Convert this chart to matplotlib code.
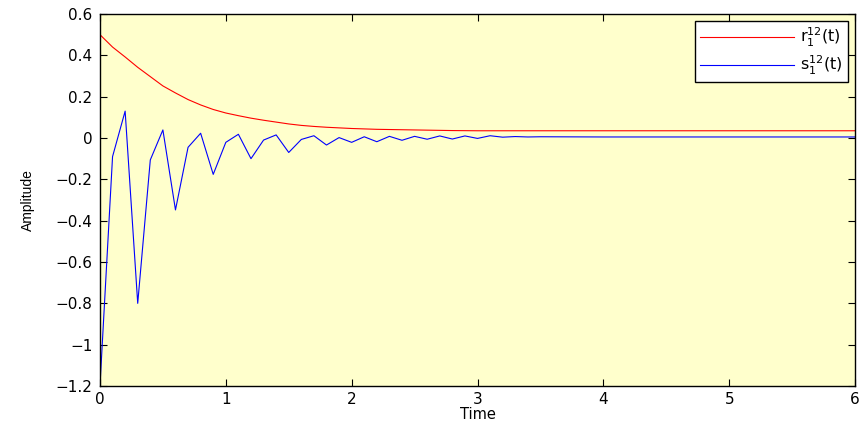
import numpy as np
import matplotlib.pyplot as plt

plt.rcParams['font.family'] = ['DejaVu Sans']

# r_1^12(t)
r_t = [0.0, 0.1, 0.2, 0.3, 0.4, 0.5, 0.6, 0.7, 0.8, 0.9, 1.0, 1.1, 1.2, 1.3,
       1.4, 1.5, 1.6, 1.7, 1.8, 1.9, 2.0, 2.2, 2.4, 2.6, 2.8, 3.0, 4.0, 5.0, 6.0]
r_val = [0.500, 0.440, 0.392, 0.342, 0.297, 0.252, 0.218, 0.186, 0.160, 0.138,
         0.121, 0.108, 0.096, 0.086, 0.077, 0.068, 0.061, 0.056, 0.052, 0.049,
         0.046, 0.042, 0.040, 0.038, 0.036, 0.035, 0.035, 0.035, 0.035]

# s_1^12(t), sampled every 0.1
s_t = [0.0, 0.1, 0.2, 0.3, 0.4, 0.5, 0.6, 0.7, 0.8, 0.9, 1.0, 1.1, 1.2, 1.3,
       1.4, 1.5, 1.6, 1.7, 1.8, 1.9, 2.0, 2.1, 2.2, 2.3, 2.4, 2.5, 2.6, 2.7,
       2.8, 2.9, 3.0, 3.1, 3.2, 3.3, 3.4, 3.5, 4.0, 5.0, 6.0]
s_val = [-1.20, -0.090, 0.130, -0.800, -0.106, 0.039, -0.348, -0.045, 0.023,
         -0.176, -0.021, 0.018, -0.100, -0.010, 0.015, -0.070, -0.007, 0.011,
         -0.034, 0.002, -0.021, 0.006, -0.018, 0.008, -0.011, 0.008, -0.006,
         0.010, -0.005, 0.010, -0.002, 0.011, 0.004, 0.007, 0.005, 0.006,
         0.005, 0.005, 0.005]

yticks = [0.6, 0.4, 0.2, 0, -0.2, -0.4, -0.6, -0.8, -1, -1.2]
ytick_labels = ['0.6', '0.4', '0.2', '0', '\u22120.2', '\u22120.4', '\u22120.6',
                '\u22120.8', '\u22121', '\u22121.2']

fig = plt.figure(figsize=(8.67, 4.28), dpi=100)
ax = fig.add_axes([0.1153, 0.0981, 0.8709, 0.8692])
ax.set_facecolor('#ffffcc')

ax.plot(r_t, r_val, color='#ff0000', lw=0.8, label=r'r$_1^{12}$(t)')
ax.plot(s_t, s_val, color='#0000ff', lw=0.8, label=r's$_1^{12}$(t)')

ax.set_xlim(0, 6)
ax.set_ylim(-1.2, 0.6)
ax.set_xticks(range(7))
ax.set_yticks(yticks)
ax.set_yticklabels(ytick_labels)
ax.tick_params(direction='in', top=True, right=True, labelsize=11, length=5)
ax.tick_params(axis='y', pad=5.5)
ax.tick_params(axis='x', pad=4)
for sp in ax.spines.values():
    sp.set_linewidth(1.0)

ax.set_xlabel('Time', fontsize=10.5, labelpad=0)
ax.set_ylabel('Amplitude', fontsize=10, labelpad=15, family='Liberation Sans')

leg = ax.legend(loc='upper right', fontsize=11.5, fancybox=False, framealpha=1,
                edgecolor='black', borderaxespad=0.45, handlelength=5.9,
                handletextpad=0.4, labelspacing=0.3, borderpad=0.3)
leg.get_frame().set_linewidth(1.0)

fig.savefig('out.png', dpi=100)
